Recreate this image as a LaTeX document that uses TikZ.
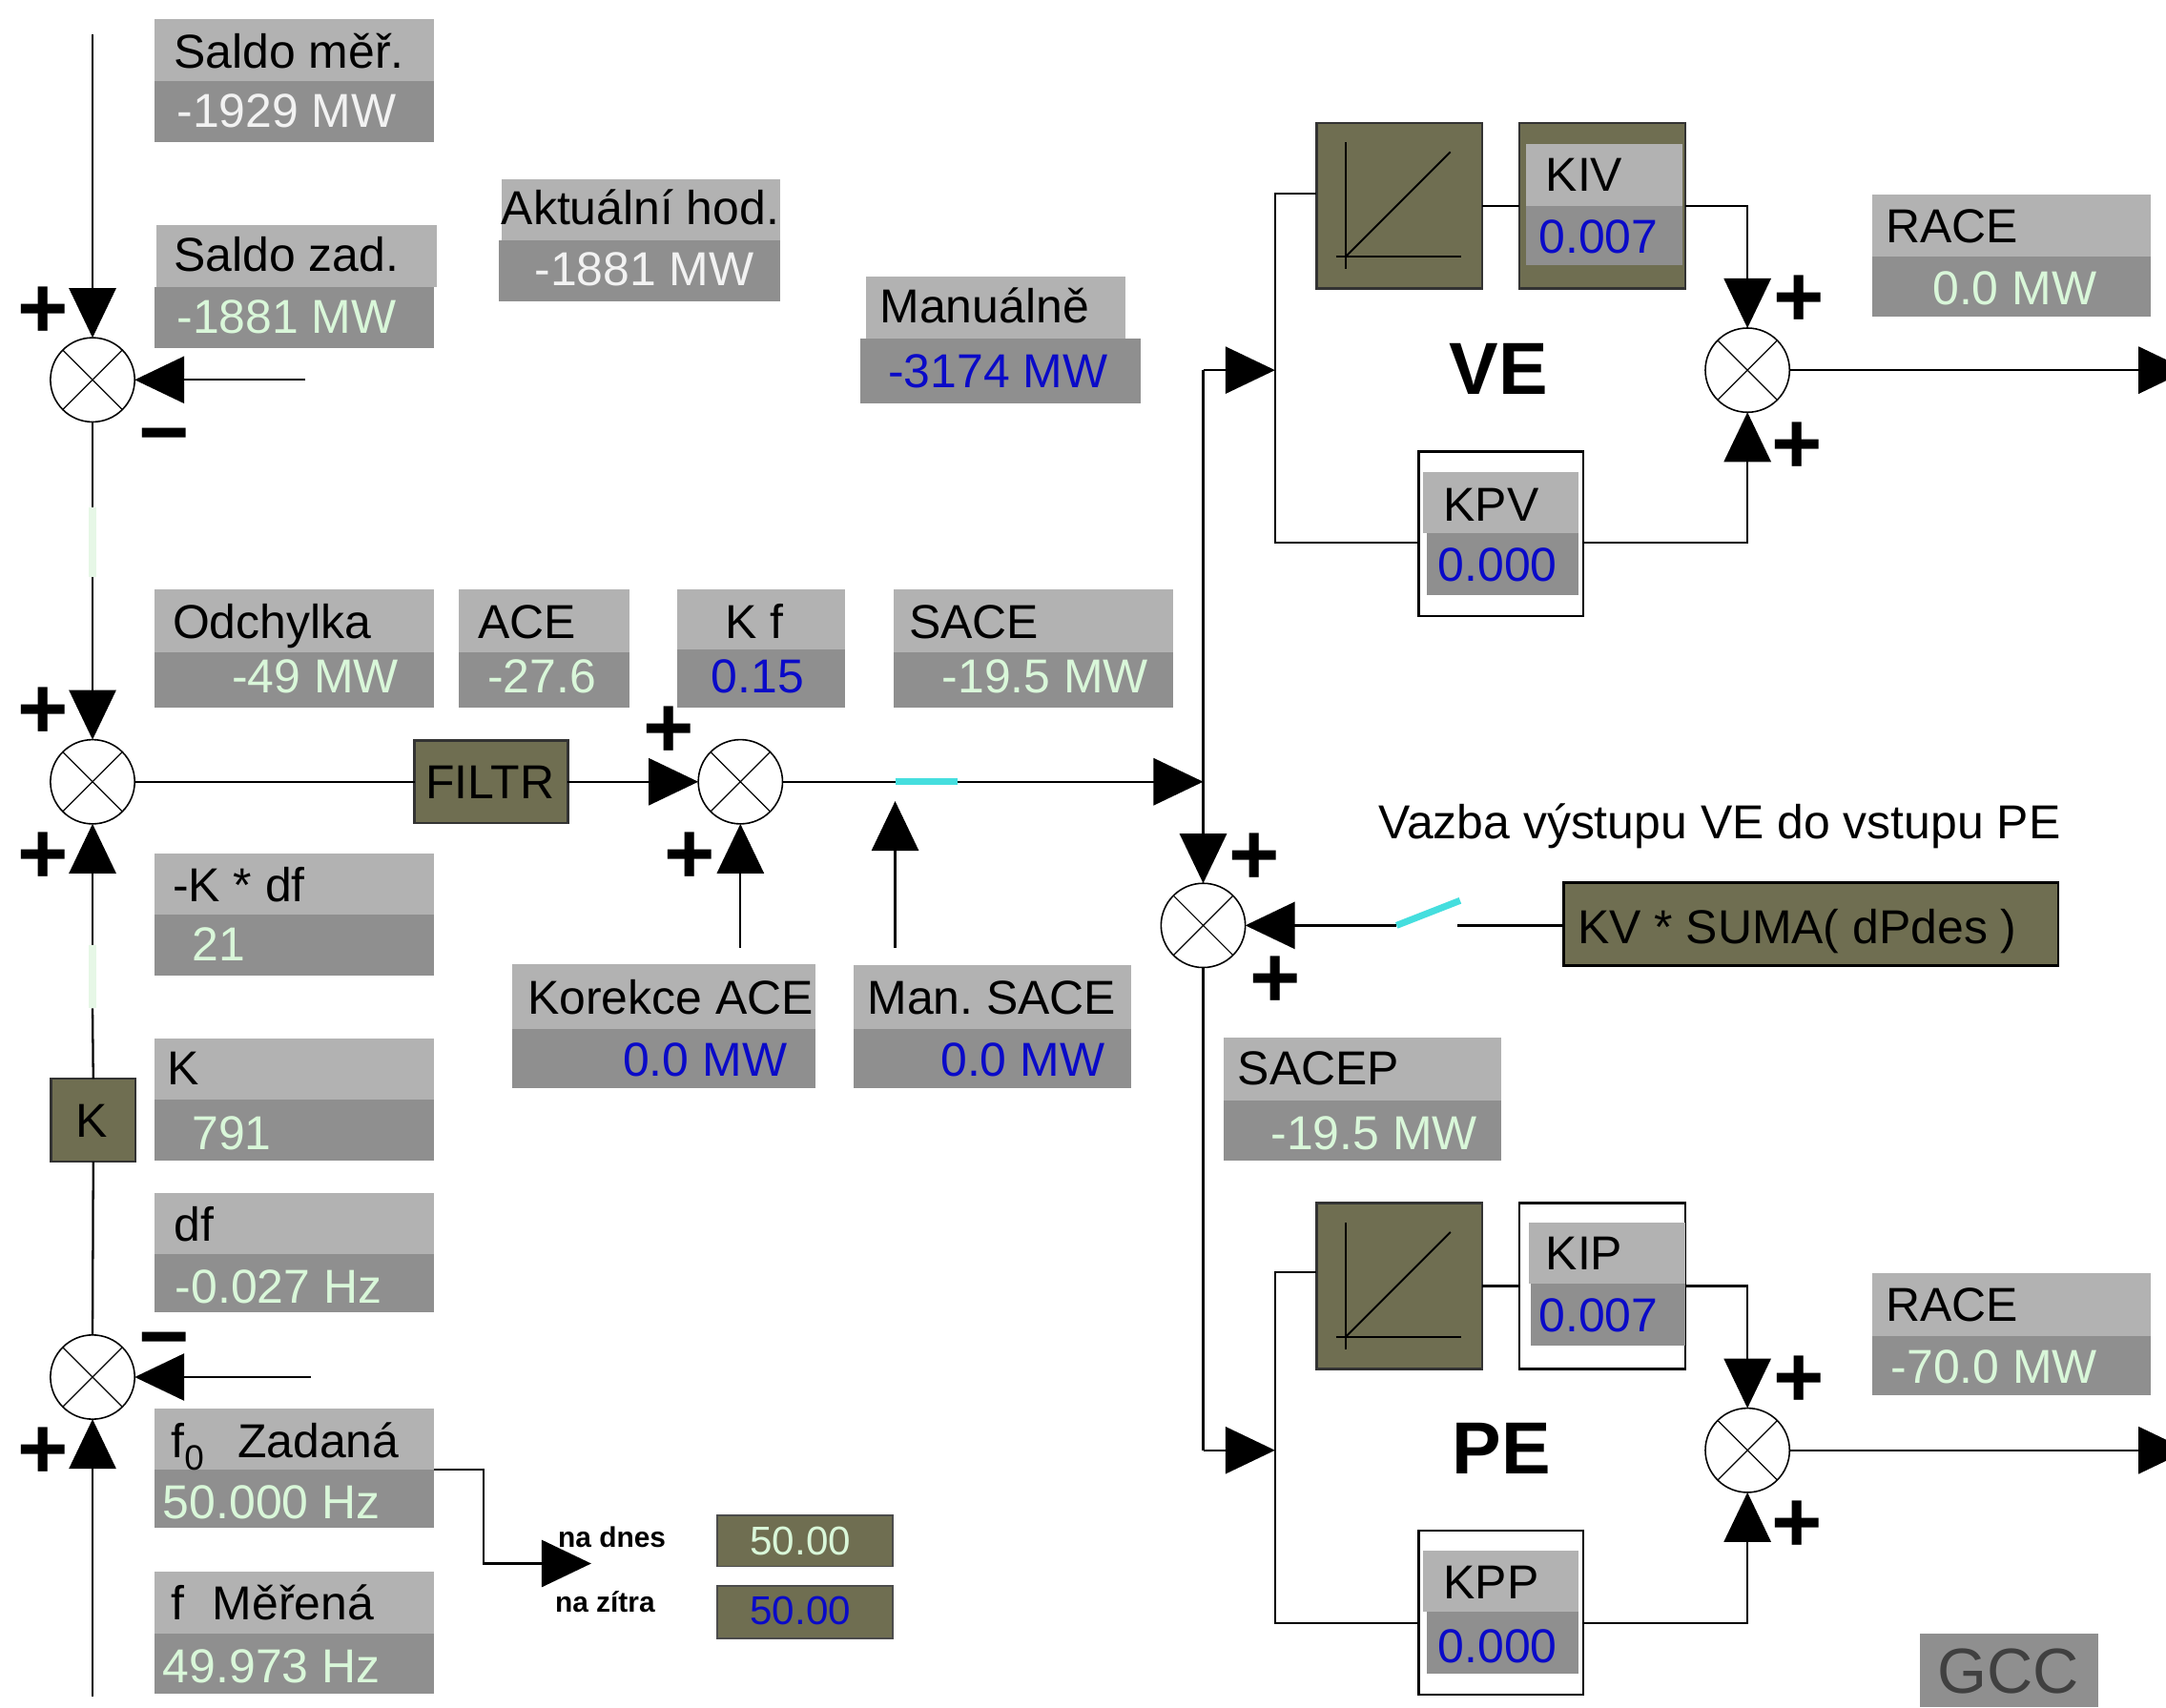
\documentclass[tikz,border=0pt]{standalone}
\usepackage{fontspec}
\setmainfont{Liberation Sans}
\usetikzlibrary{arrows.meta}
\definecolor{gtop}{HTML}{B2B2B2}
\definecolor{gbot}{HTML}{8F8F8F}
\definecolor{olive}{HTML}{6F6E51}
\definecolor{valg}{HTML}{D9F7D9}
\definecolor{valw}{HTML}{F2F2F2}
\definecolor{valb}{HTML}{0A0AC8}
\definecolor{palegr}{HTML}{E6F7E6}
\definecolor{cyansw}{HTML}{45DEDE}
\tikzset{
  x=0.014483cm,y=-0.014483cm,
  every node/.style={inner sep=0pt,outer sep=0pt},
  lab/.style={anchor=base west,font=\frenchspacing\fontsize{14.2}{17}\selectfont},
  sgn/.style={anchor=center,font=\bfseries\fontsize{26}{26}\selectfont},
  small/.style={anchor=center,font=\bfseries\fontsize{8.5}{10}\selectfont},
  big/.style={anchor=center,font=\bfseries\fontsize{22}{24}\selectfont},
  junction/.style={circle,draw=black,line width=0.45pt,fill=white,minimum size=0.883cm,
    path picture={\draw[line width=0.35pt]
      (path picture bounding box.north east) -- (path picture bounding box.south west)
      (path picture bounding box.north west) -- (path picture bounding box.south east);}},
  wire/.style={draw=black,line width=0.65pt},
  arr/.style={wire,-{Triangle[length=14.8pt,width=14pt]}},
  pale/.style={draw=palegr,line width=2.5pt},
  sw/.style={draw=cyansw,line width=2pt},
  thinax/.style={draw=black,line width=0.55pt}
}
\newcommand{\bx}[6]{\node[anchor=north west,fill=#6,minimum width={(#4-#2)*0.014483cm},minimum height={(#5-#3)*0.014483cm},#1] at (#2,#3) {};}
\newcounter{tn}
\newcommand{\txt}[4]{\stepcounter{tn}\node[lab,text=#3] (t\arabic{tn}) at (#1,#2+12.5) {#4};}
\newcommand{\sg}[3]{\stepcounter{tn}\node[sgn] (t\arabic{tn}) at (#1,#2) {#3};}
\begin{document}
\begin{tikzpicture}
\useasboundingbox (0,0) rectangle (1568,1236);
\clip (0,0) rectangle (1568,1236);
% value boxes
\bx{name=a1}{112}{14}{314}{59}{gtop}\bx{name=a2}{112}{59}{314}{103}{gbot}
\bx{name=b1}{113}{163}{316}{208}{gtop}\bx{name=b2}{112}{208}{314}{252}{gbot}
\bx{name=c1}{363}{130}{565}{174}{gtop}\bx{name=c2}{361}{174}{565}{218}{gbot}
\bx{name=d1}{627}{200}{815}{245}{gtop}\bx{name=d2}{623}{245}{826}{292}{gbot}
\bx{name=e1}{112}{427}{314}{472}{gtop}\bx{name=e2}{112}{472}{314}{512}{gbot}
\bx{name=f1}{332}{427}{456}{472}{gtop}\bx{name=f2}{332}{472}{456}{512}{gbot}
\bx{name=g1}{490}{427}{612}{470}{gtop}\bx{name=g2}{490}{470}{612}{512}{gbot}
\bx{name=h1}{647}{427}{849}{472}{gtop}\bx{name=h2}{647}{472}{849}{512}{gbot}
\bx{name=i1}{112}{618}{314}{662}{gtop}\bx{name=i2}{112}{662}{314}{706}{gbot}
\bx{name=j1}{112}{752}{314}{796}{gtop}\bx{name=j2}{112}{796}{314}{840}{gbot}
\bx{name=k1}{112}{864}{314}{908}{gtop}\bx{name=k2}{112}{908}{314}{950}{gbot}
\bx{name=zad1}{112}{1020}{314}{1064}{gtop}\bx{name=zad2}{112}{1064}{314}{1106}{gbot}
\bx{name=mer1}{112}{1138}{314}{1183}{gtop}\bx{name=mer2}{112}{1183}{314}{1226}{gbot}
\bx{name=kor1}{371}{698}{590}{745}{gtop}\bx{name=kor2}{371}{745}{590}{788}{gbot}
\bx{name=man1}{618}{699}{819}{745}{gtop}\bx{name=man2}{618}{745}{819}{788}{gbot}
\bx{name=sp1}{886}{751}{1087}{797}{gtop}\bx{name=sp2}{886}{797}{1087}{840}{gbot}
\bx{name=r1}{1355}{141}{1557}{186}{gtop}\bx{name=r2}{1355}{186}{1557}{229}{gbot}
\bx{name=r3}{1355}{922}{1557}{967}{gtop}\bx{name=r4}{1355}{967}{1557}{1010}{gbot}
\bx{name=gcc}{1390}{1183}{1519}{1236}{gbot}
% olive blocks
\bx{name=rampV,draw=black!80,line width=0.7pt}{953}{89}{1073}{209}{olive}
\bx{name=rampP,draw=black!80,line width=0.7pt}{953}{871}{1073}{991}{olive}
\bx{name=kivf,draw=black!80,line width=0.7pt}{1100}{89}{1220}{209}{olive}
\bx{name=kipf,draw=black,line width=0.7pt}{1100}{871}{1220}{991}{white}
\bx{name=kpvf,draw=black,line width=0.7pt}{1027}{327}{1146}{446}{white}
\bx{name=kppf,draw=black,line width=0.7pt}{1027}{1108}{1146}{1227}{white}
\bx{name=filt,draw=black!80,line width=0.7pt}{300}{536}{411}{596}{olive}
\bx{name=kblk,draw=black!80,line width=0.7pt}{37}{781}{98}{841}{olive}
\bx{name=kvb,draw=black,line width=0.8pt}{1132}{639}{1490}{699}{olive}
\bx{name=n1,draw=black!70,line width=0.5pt}{519}{1097}{646}{1134}{olive}
\bx{name=n2,draw=black!70,line width=0.5pt}{519}{1148}{646}{1186}{olive}
\bx{name=kiv1}{1105}{104}{1218}{149}{gtop}\bx{name=kiv2}{1105}{149}{1218}{192}{gbot}
\bx{name=kip1}{1107}{885}{1220}{929}{gtop}\bx{name=kip2}{1108}{929}{1220}{974}{gbot}
\bx{name=kpv1}{1030}{342}{1143}{386}{gtop}\bx{name=kpv2}{1033}{386}{1143}{431}{gbot}
\bx{name=kpp1}{1030}{1123}{1143}{1167}{gtop}\bx{name=kpp2}{1033}{1167}{1143}{1212}{gbot}
% ramp glyphs
\foreach \dy/\nm in {0/V,782/P}{
  \draw[thinax] (974,103+\dy) -- (974,195+\dy);
  \draw[thinax] (967,186+\dy) -- (1058,186+\dy);
  \draw[thinax] (974,186+\dy) -- (1050,110+\dy);
}
% summing junctions
\node[junction] (s1) at (67,275) {};
\node[junction] (s2) at (67,566) {};
\node[junction] (s3) at (67,997) {};
\node[junction] (s4) at (536,566) {};
\node[junction] (s5) at (871,670) {};
\node[junction] (s6) at (1265,268) {};
\node[junction] (s7) at (1265,1050) {};
% free ends
\coordinate (c1) at (67,25);
\coordinate (c2) at (221,275);
\coordinate (c3) at (67,367);
\coordinate (c4) at (67,418);
\coordinate (c5) at (67,684);
\coordinate (c6) at (67,730);
\coordinate (c7) at (67,1228);
\coordinate (c8) at (225,997);
\coordinate (w1) at (648,566);
\coordinate (w2) at (693,566);
\coordinate (b1up) at (871,566);
\coordinate (b2) at (871,268);
\coordinate (b3) at (923,268);
\coordinate (b4) at (871,1050);
\coordinate (b5) at (923,1050);
\coordinate (u1) at (536,686);
\coordinate (u2) at (648,686);
\coordinate (u3) at (648,580);
\coordinate (o1) at (1584,268);
\coordinate (o2) at (1584,1050);
\coordinate (h1a) at (1011,670);
\coordinate (h1b) at (1057,652);
\coordinate (h1c) at (1055,670);
\coordinate (z1) at (314,1064);
\coordinate (z2) at (428,1132);
% connectors
\draw[arr] (c1) -- (s1.north);
\draw[arr] (c2) -- (s1.east);
\draw[wire] (s1.south) -- (c3);
\draw[pale] (c3) -- (c4);
\draw[arr] (c4) -- (s2.north);
\draw[arr] (c5) -- (s2.south);
\draw[pale] (c5) -- (c6);
\draw[wire] (c6) -- (kblk.north);
\draw[wire] (kblk.south) -- (s3.north);
\draw[arr] (c7) -- (s3.south);
\draw[arr] (c8) -- (s3.east);
\draw[wire] (s2.east) -- (filt.west);
\draw[arr] (filt.east) -- (s4.west);
\draw[wire] (s4.east) -- (w1);
\draw[sw] (w1) -- (w2);
\draw[arr] (w2) -- (b1up);
\draw[arr] (u1) -- (s4.south);
\draw[arr] (u2) -- (u3);
\draw[wire] (b1up) -- (b2);
\draw[arr] (b2) -- (b3);
\draw[arr] (b1up) -- (s5.north);
\draw[wire] (s5.south) -- (b4);
\draw[arr] (b4) -- (b5);
\draw[wire] (kvb.west |- h1c) -- (h1c);
\draw[sw] (h1a) -- (h1b);
\draw[arr] (h1a) -- (s5.east);
% VE branch
\draw[wire] (953,140) -- (923,140) -- (b3) -- (923,393) -- (1027,393);
\draw[wire] (rampV.east) -- (kivf.west);
\draw[arr] (kivf.east) -| (s6.north);
\draw[arr] (kpvf.east |- 0,393) -| (s6.south);
\draw[arr] (s6.east) -- (o1);
% PE branch
\draw[wire] (953,921) -- (923,921) -- (b5) -- (923,1175) -- (1027,1175);
\draw[wire] (rampP.east) -- (kipf.west);
\draw[arr] (kipf.east) -| (s7.north);
\draw[arr] (kppf.east |- 0,1175) -| (s7.south);
\draw[arr] (s7.east) -- (o2);
\draw[arr] (z1) -- (350,1064) -- (350,1132) -- (z2);
% texts
\txt{126}{37}{black}{Saldo měř.}\txt{128}{80}{valw}{-1929 MW}
\txt{126}{184}{black}{Saldo zad.}\txt{128}{229}{valg}{-1881 MW}
\txt{363}{150}{black}{Aktuální hod.}\txt{387}{194}{valw}{-1881 MW}
\txt{637}{221}{black}{Manuálně}\txt{643}{268}{valb}{-3174 MW}
\txt{125}{450}{black}{Odchylka}\txt{168}{489}{valg}{-49 MW}
\txt{346}{450}{black}{ACE}\txt{353}{489}{valg}{-27.6}
\txt{525}{450}{black}{K f}\txt{515}{489}{valb}{0.15}
\txt{658}{450}{black}{SACE}\txt{682}{489}{valg}{-19.5 MW}
\txt{125}{640}{black}{-K * df}\txt{139}{683}{valg}{21}
\txt{121}{773}{black}{K}\txt{139}{820}{valg}{791}
\txt{126}{886}{black}{df}\txt{127}{931}{valg}{-0.027 Hz}
\txt{124}{1043}{black}{f\raisebox{-3.5pt}{\fontsize{10.5}{10.5}\selectfont 0}\kern10pt Zadaná}\txt{118}{1087}{valg}{50.000 Hz}
\txt{124}{1160}{black}{f\kern8.4pt Měřená}\txt{118}{1206}{valg}{49.973 Hz}
\txt{382}{722}{black}{Korekce ACE}\txt{451}{767}{valb}{0.0 MW}
\txt{628}{722}{black}{Man. SACE}\txt{681}{767}{valb}{0.0 MW}
\txt{896}{773}{black}{SACEP}\txt{920}{820}{valg}{-19.5 MW}
\txt{1365}{163}{black}{RACE}\txt{1399}{208}{valg}{0.0 MW}
\txt{1365}{944}{black}{RACE}\txt{1369}{989}{valg}{-70.0 MW}
\txt{1119}{126}{black}{KIV}\txt{1114}{171}{valb}{0.007}
\txt{1045}{365}{black}{KPV}\txt{1041}{408}{valb}{0.000}
\txt{1119}{907}{black}{KIP}\txt{1114}{952}{valb}{0.007}
\txt{1045}{1145}{black}{KPP}\txt{1041}{1191}{valb}{0.000}
\txt{308}{566}{black}{FILTR}
\txt{55}{811}{black}{K}
\txt{1142}{671}{black}{KV * SUMA( dPdes )}
\txt{998}{595}{black}{Vazba výstupu VE do vstupu PE}
\txt{543}{1113}{valg}{\fontsize{12}{14}\selectfont 50.00}\txt{543}{1164}{valb}{\fontsize{12}{14}\selectfont 50.00}
\node[small] (nad) at (443,1113) {na dnes};
\node[small] (nzi) at (438,1160) {na zítra};
\node[big] (ve) at (1085,267) {VE};
\node[big] (pe) at (1087,1049) {PE};
\node[anchor=center,text=black!75,font=\fontsize{19}{22}\selectfont] (gcct) at (1454,1210) {GCC};
% signs
\sg{31}{226}{+}\sg{119}{322}{−}\sg{31}{516}{+}\sg{31}{621}{+}\sg{31}{1052}{+}\sg{119}{977}{−}
\sg{484}{530}{+}\sg{499}{621}{+}\sg{908}{622}{+}\sg{923}{711}{+}
\sg{1302}{218}{+}\sg{1301}{324}{+}\sg{1302}{1000}{+}\sg{1301}{1105}{+}
\end{tikzpicture}
\end{document}
